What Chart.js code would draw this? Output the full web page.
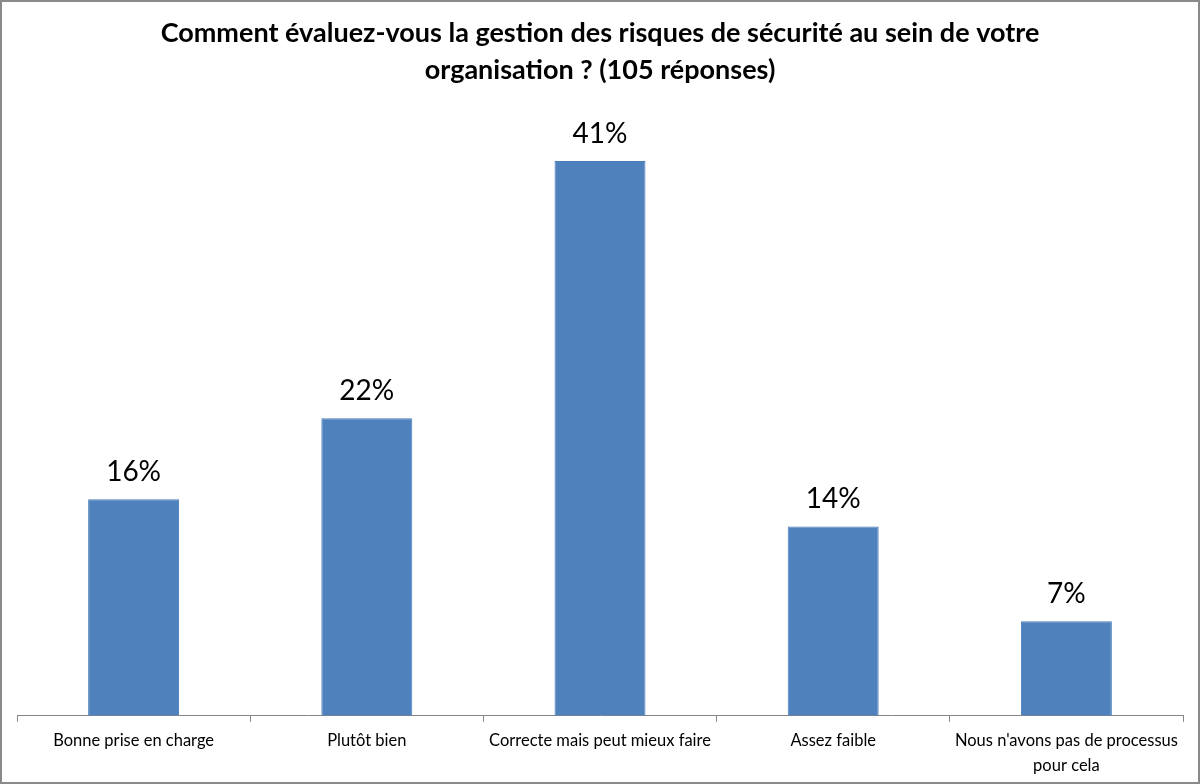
<!DOCTYPE html>
<html>
<head>
<meta charset="utf-8">
<script src="https://cdn.jsdelivr.net/npm/chart.js@4.4.1/dist/chart.umd.min.js"></script>
<style>
  body { margin: 0; background: #fff; }
  #wrap { width: 1200px; height: 784px; position: relative; }
</style>
</head>
<body>
<div id="wrap"><canvas id="chart" width="1200" height="784"></canvas></div>
<script>
const titleLines = ["Comment évaluez-vous la gestion des risques de sécurité au sein de votre", "organisation ? (105 réponses)"];
const categories = ["Bonne prise en charge", "Plutôt bien", "Correcte mais peut mieux faire", "Assez faible", ["Nous n'avons pas de processus", "pour cela"]];
const percentages = [16, 22, 41, 14, 7];

// draws the "16%" style labels above each bar
const valueLabels = {
    id: "valueLabels",
    afterDatasetsDraw(chart) {
        let ctx = chart.ctx;
        let meta = chart.getDatasetMeta(0);
        ctx.save();
        ctx.font = "28px Lato";
        ctx.fillStyle = "#000";
        ctx.textAlign = "center";
        ctx.textBaseline = "middle";
        meta.data.forEach(function (bar, i) {
            ctx.fillText(percentages[i] + "%", bar.x, bar.y - 27);
        });
        ctx.restore();
    }
};

const frame = {
    id: "frame",
    afterDraw(chart) {
        let ctx = chart.ctx;
        ctx.save();
        ctx.strokeStyle = "#898989";
        ctx.lineWidth = 2;
        ctx.strokeRect(1, 1, chart.width - 2, chart.height - 2);
        ctx.restore();
    }
};

new Chart(document.getElementById("chart").getContext("2d"), {
    type: "bar",
    data: {
        labels: categories,
        datasets: [{
            data: percentages,
            backgroundColor: "#4F81BD",
            borderColor: "#4A7EBB",
            borderWidth: 1,
            categoryPercentage: 1,
            barPercentage: 0.39
        }]
    },
    options: {
        responsive: false,
        animation: false,
        layout: { padding: { left: 17, right: 17, top: 0, bottom: 0 } },
        plugins: {
            legend: { display: false },
            tooltip: { enabled: false },
            title: {
                display: true,
                text: titleLines,
                color: "#000",
                font: { family: "Lato", size: 27, weight: "bold", lineHeight: 1.37 },
                padding: { top: 15, bottom: 18 }
            }
        },
        scales: {
            x: {
                offset: true,
                border: { display: true, color: "#868686", width: 1 },
                grid: { display: true, drawOnChartArea: false, drawTicks: true, tickLength: 6, color: "#868686", offset: true },
                ticks: { color: "#000", padding: 6, maxRotation: 0, autoSkip: false, font: { family: "Lato", size: 16.5, lineHeight: 1.52 } }
            },
            y: {
                display: false,
                min: 0,
                max: 45
            }
        }
    },
    plugins: [valueLabels, frame]
});
</script>
</body>
</html>
